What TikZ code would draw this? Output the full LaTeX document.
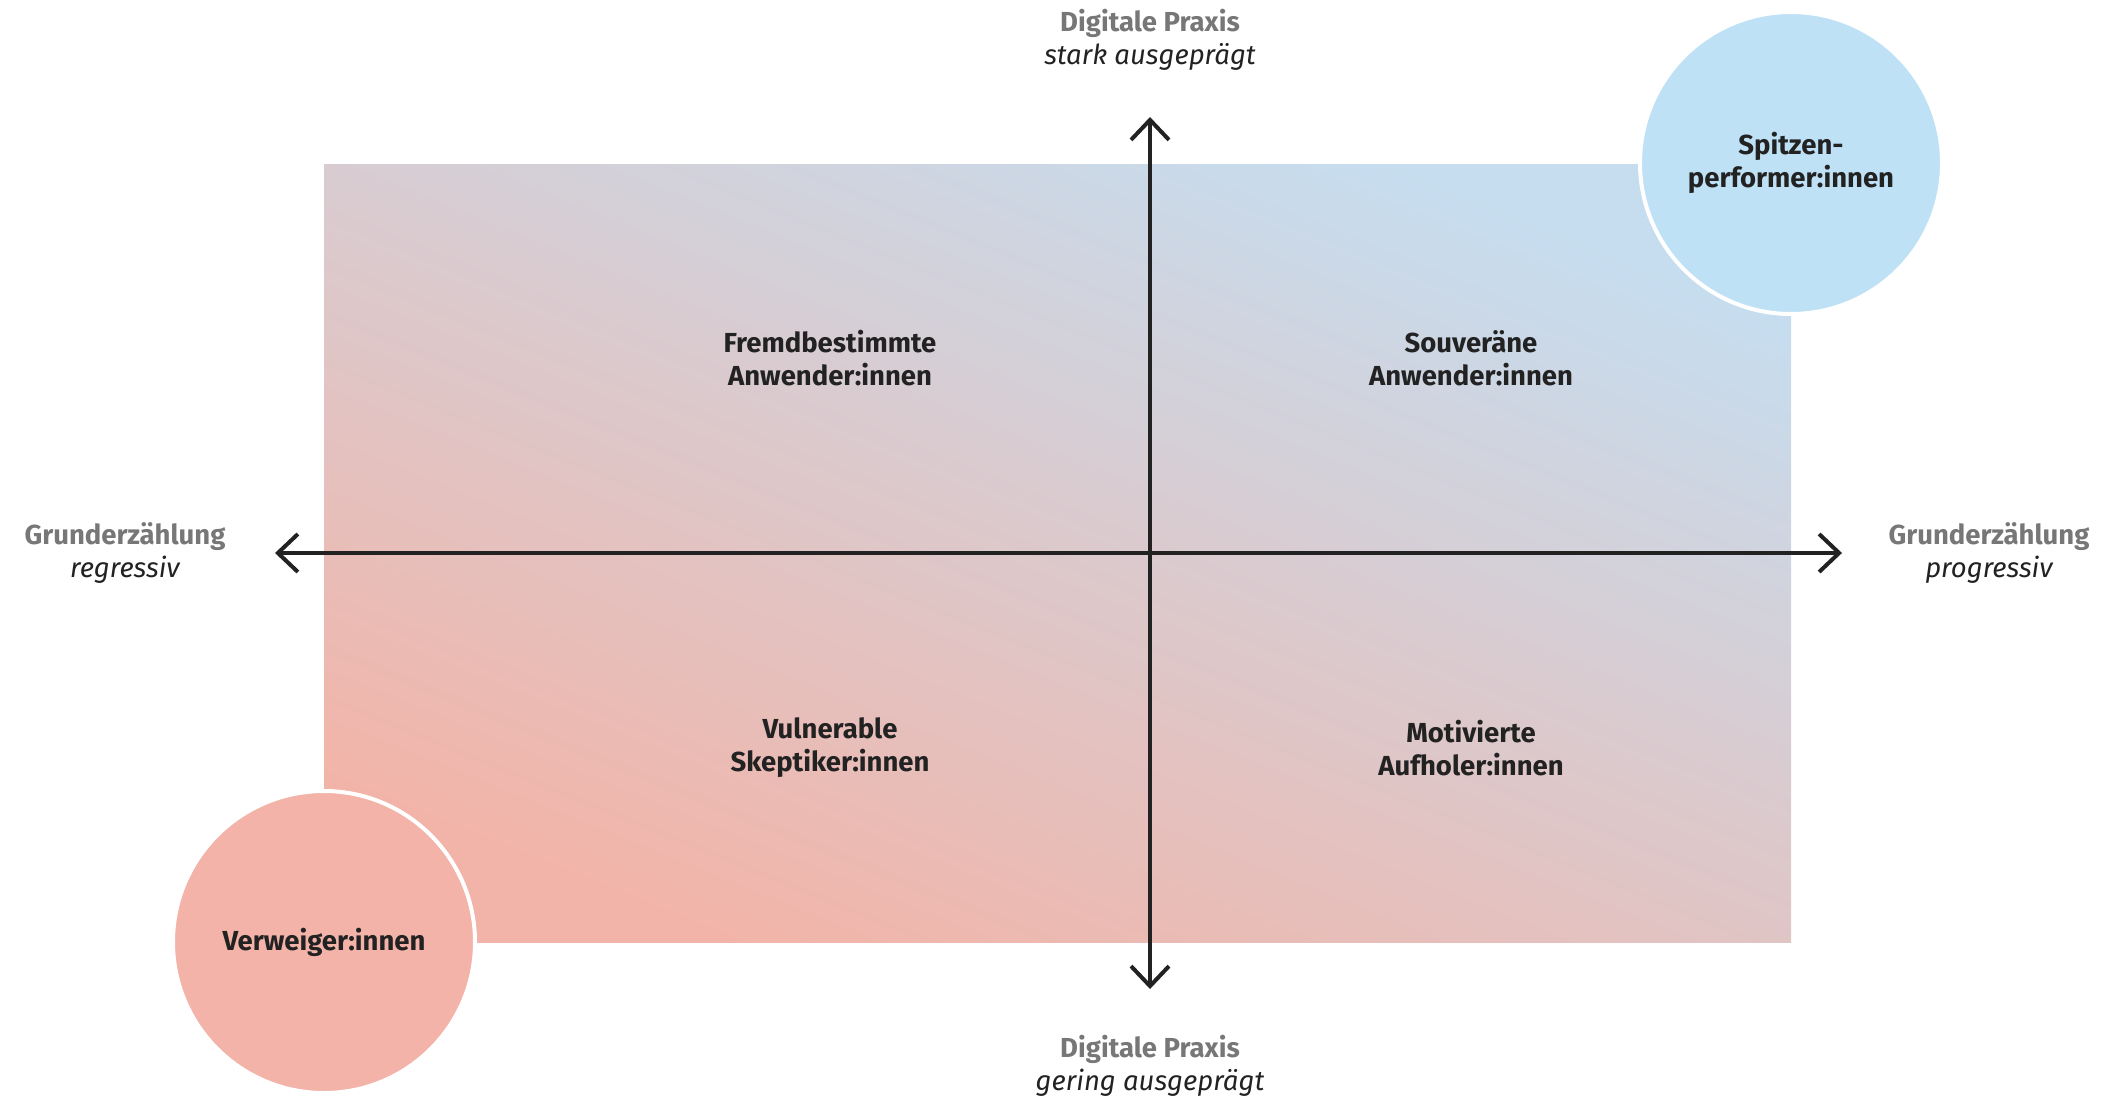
\documentclass[tikz,border=0pt]{standalone}
\usepackage{fontspec}
\setmainfont{Fira Sans}
\usetikzlibrary{arrows.meta}
\definecolor{rblue}{HTML}{C6DDEF}
\definecolor{rmid}{HTML}{DDD2D7}
\definecolor{rsalmon}{HTML}{F2B4A8}
\definecolor{cblue}{HTML}{BFE1F6}
\definecolor{csalmon}{HTML}{F3B3A9}
\definecolor{lblgrey}{HTML}{777777}
\definecolor{txtdark}{HTML}{222222}
\tikzset{
  axislbl/.style={align=center,font=\fontsize{27.5}{33}\selectfont,text=txtdark},
  quad/.style={align=center,font=\fontsize{27.5}{33}\selectfont\bfseries,text=txtdark},
  bubble/.style={circle,draw=white,line width=4pt,minimum size=302pt,inner sep=0pt,align=center,font=\fontsize{27.5}{33}\selectfont\bfseries,text=txtdark},
  axisline/.style={line width=4pt,draw=txtdark,{Straight Barb[length=20pt,width=38pt]}-{Straight Barb[length=20pt,width=38pt]}}
}
\begin{document}
\begin{tikzpicture}[x=1pt,y=-1pt]
\useasboundingbox (0,0) rectangle (2114,1100);
\shade[shading=axis,top color=rblue,middle color=rmid,bottom color=rsalmon,shading angle=-22] (324,164) rectangle (1791,942);
\node[bubble,fill=cblue] (top) at (1791,163) {Spitzen-\\performer:innen};
\node[bubble,fill=csalmon] (bot) at (324,942) {Verweiger:innen};
\coordinate (L) at (275,553);
\coordinate (R) at (1842,553);
\coordinate (T) at (1150,117);
\coordinate (B) at (1150,989);
\draw[axisline] (L) -- (R);
\draw[axisline] (B) -- (T);
\node[quad] (q1) at (830,358) {Fremdbestimmte\\Anwender:innen};
\node[quad] (q2) at (1471,358) {Souveräne\\Anwender:innen};
\node[quad] (q3) at (830,748) {Vulnerable\\Skeptiker:innen};
\node[quad] (q4) at (1471,748) {Motivierte\\Aufholer:innen};
\node[axislbl] (lt) at (1150,40) {\textcolor{lblgrey}{\bfseries Digitale Praxis}\\\itshape stark ausgeprägt};
\node[axislbl] (lb) at (1150,1066) {\textcolor{lblgrey}{\bfseries Digitale Praxis}\\\itshape gering ausgeprägt};
\node[axislbl] (ll) at (125,553) {\textcolor{lblgrey}{\bfseries Grunderzählung}\\\itshape regressiv};
\node[axislbl] (lr) at (1989,553) {\textcolor{lblgrey}{\bfseries Grunderzählung}\\\itshape progressiv};
\end{tikzpicture}
\end{document}
